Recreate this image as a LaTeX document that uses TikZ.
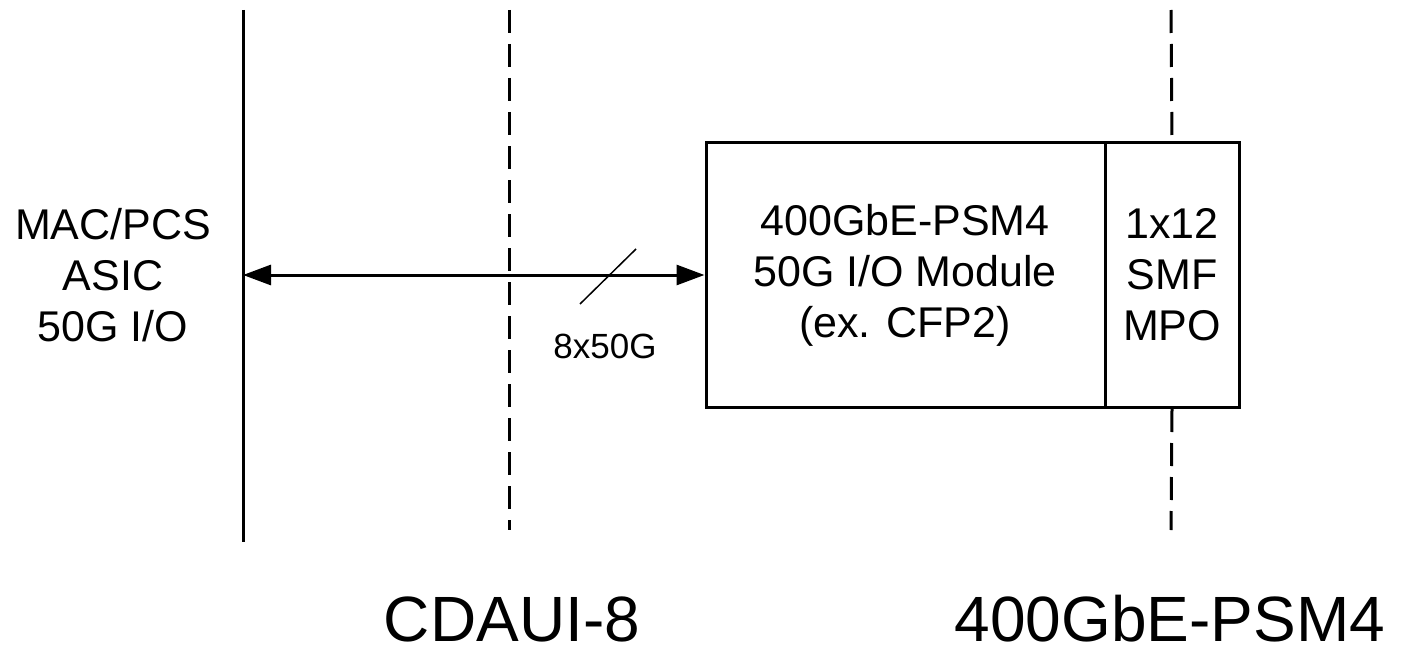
\documentclass[tikz,border=0pt]{standalone}
\usepackage{fontspec}
\setmainfont{Liberation Sans}
\usetikzlibrary{arrows.meta}
\begin{document}
\begin{tikzpicture}[x=1pt,y=-1pt,
  ln/.style={line width=3pt,black},
  dsh/.style={line width=3pt,dash pattern=on 23pt off 11pt},
  lbl/.style={align=center,font=\fontsize{43}{51}\selectfont,inner sep=0pt},
  big/.style={font=\fontsize{64}{70}\selectfont,inner sep=0pt},
  arr/.style={line width=3pt,{Triangle[length=28pt,width=20pt]}-{Triangle[length=28pt,width=20pt]}}]
\useasboundingbox (0,0) rectangle (1410,650);
% vertical lines
\coordinate (s1) at (243,10); \coordinate (s2) at (243,542);
\draw[ln] (s1) -- (s2);
\coordinate (d1) at (509,10); \coordinate (d2) at (509,530);
\draw[dsh] (d1) -- (d2);
% box
\node[draw,line width=3pt,minimum width=399pt,minimum height=265pt,inner sep=0pt] (mod) at (905.5,275) {};
\node[draw,line width=3pt,minimum width=134pt,minimum height=265pt,inner sep=0pt] (mpo) at (1172,275) {};
\coordinate (r1) at (1171,10); \coordinate (r2) at (1171,530);
\draw[dsh] (r1) -- (mpo.north);
\draw[dsh] (mpo.south) -- (r2);
% texts
\node[lbl] (mac) at (113,275) {MAC/PCS\\ASIC\\50G I/O};
\node[lbl] (modt) at (905,275) {400GbE-PSM4\\50G I/O Module\\(ex. CFP2)};
\node[lbl] (mpot) at (1172,275) {1x12\\SMF\\MPO};
% arrow
\coordinate (a1) at (243,275);
\draw[arr] (a1) -- (mod.west);
\coordinate (sl1) at (580,304); \coordinate (sl2) at (636,249);
\draw[line width=1.5pt] (sl1) -- (sl2);
\node[font=\fontsize{35}{40}\selectfont,inner sep=0pt] (rate) at (605,346) {8x50G};
% bottom labels
\node[big] (cd) at (512,619) {CDAUI-8};
\node[big] (psm) at (1170,619) {400GbE-PSM4};
\end{tikzpicture}
\end{document}
